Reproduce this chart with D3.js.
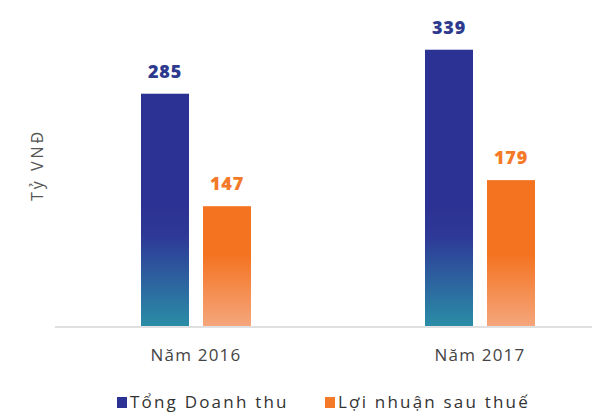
<!DOCTYPE html>
<html>
<head>
<meta charset="utf-8" />
<style>
  body { margin: 0; background: #fff; }
  svg { display: block; }
</style>
</head>
<body>
<script src="https://cdn.jsdelivr.net/npm/d3@7"></script>
<script>
const years = ["Năm 2016", "Năm 2017"];
const seriesNames = ["Tổng Doanh thu", "Lợi nhuận sau thuế"];
const revenue = [285, 339];
const profit = [147, 179];

const W = 592, H = 413;
const svg = d3.select("body").append("svg").attr("width", W).attr("height", H);

const baseY = 326;
const y = d3.scaleLinear().domain([0, 400]).range([baseY, 0]);
const x0 = d3.scaleBand().domain(years).range([141, 535]).paddingInner(0.6127).paddingOuter(0);
const x1 = d3.scaleBand().domain(seriesNames).range([0, x0.bandwidth()]).paddingInner(0.2258).paddingOuter(0);

// gradients (shared across bars, in user space)
const defs = svg.append("defs");
const gBlue = defs.append("linearGradient").attr("id", "gBlue")
  .attr("gradientUnits", "userSpaceOnUse")
  .attr("x1", 0).attr("y1", 205).attr("x2", 0).attr("y2", baseY);
gBlue.append("stop").attr("offset", "0%").attr("stop-color", "#2c3293");
gBlue.append("stop").attr("offset", "25%").attr("stop-color", "#2e3896");
gBlue.append("stop").attr("offset", "100%").attr("stop-color", "#2a8da7");
const gOrange = defs.append("linearGradient").attr("id", "gOrange")
  .attr("gradientUnits", "userSpaceOnUse")
  .attr("x1", 0).attr("y1", 255).attr("x2", 0).attr("y2", baseY);
gOrange.append("stop").attr("offset", "0%").attr("stop-color", "#f47321");
gOrange.append("stop").attr("offset", "100%").attr("stop-color", "#f5a67c");

const fills = ["url(#gBlue)", "url(#gOrange)"];
const legendFills = ["#2c3293", "#f47a2a"];
const labelColors = ["#2e3a8e", "#f47a2a"];
const data = years.map((yr, i) => ({ year: yr, values: [revenue[i], profit[i]] }));

// baseline
svg.append("line")
  .attr("x1", 55).attr("x2", W)
  .attr("y1", baseY + 1).attr("y2", baseY + 1)
  .attr("stroke", "#d6d6d6").attr("stroke-width", 1.5);

const groups = svg.selectAll("g.year").data(data).join("g")
  .attr("class", "year")
  .attr("transform", d => `translate(${x0(d.year)},0)`);

groups.selectAll("rect")
  .data(d => d.values.map((v, j) => ({ v, j })))
  .join("rect")
  .attr("x", d => x1(seriesNames[d.j]))
  .attr("width", x1.bandwidth())
  .attr("y", d => y(d.v))
  .attr("height", d => baseY - y(d.v))
  .attr("fill", d => fills[d.j]);

groups.selectAll("text.val")
  .data(d => d.values.map((v, j) => ({ v, j })))
  .join("text")
  .attr("class", "val")
  .attr("x", d => x1(seriesNames[d.j]) + x1.bandwidth() / 2)
  .attr("y", d => y(d.v) - 16)
  .attr("text-anchor", "middle")
  .attr("font-family", "Open Sans, sans-serif")
  .attr("font-weight", 800)
  .attr("font-size", 18)
  .attr("letter-spacing", 0.8)
  .attr("fill", d => labelColors[d.j])
  .text(d => d.v);

// x labels
svg.selectAll("text.xl").data(years).join("text")
  .attr("class", "xl")
  .attr("x", d => x0(d) + x0.bandwidth() / 2)
  .attr("y", 361)
  .attr("text-anchor", "middle")
  .attr("font-family", "Open Sans, sans-serif")
  .attr("font-size", 17)
  .attr("letter-spacing", 1.2)
  .attr("fill", "#444")
  .text(d => d);

// y label
svg.append("text")
  .attr("transform", "translate(43,165) rotate(-90)")
  .attr("text-anchor", "middle")
  .attr("font-family", "Open Sans, sans-serif")
  .attr("font-size", 16)
  .attr("letter-spacing", 3)
  .attr("fill", "#555")
  .text("Tỷ VNĐ");

// legend
const legendX = [117, 325];
const legend = svg.selectAll("g.leg").data(seriesNames).join("g")
  .attr("class", "leg")
  .attr("transform", (d, i) => `translate(${legendX[i]},408)`);
legend.append("rect")
  .attr("x", 0).attr("y", -11).attr("width", 10).attr("height", 11)
  .attr("fill", (d, i) => legendFills[i]);
legend.append("text")
  .attr("x", 13).attr("y", 0)
  .attr("font-family", "Open Sans, sans-serif")
  .attr("font-size", 17)
  .attr("letter-spacing", 2.2)
  .attr("fill", "#333")
  .text(d => d);
</script>
</body>
</html>
